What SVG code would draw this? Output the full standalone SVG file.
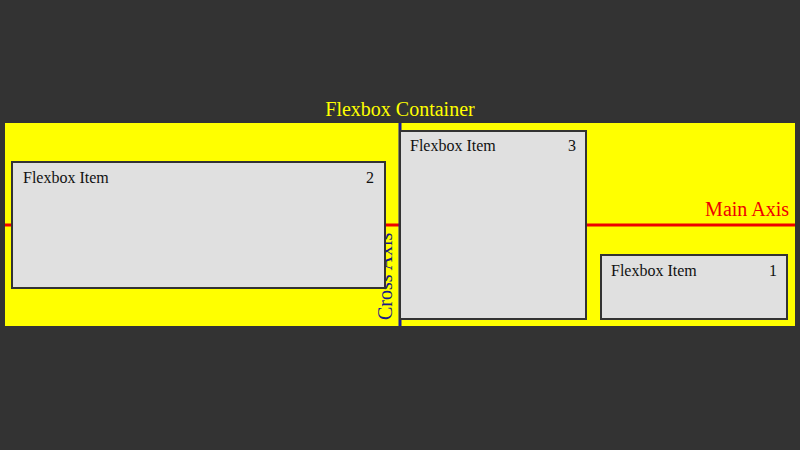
<svg xmlns="http://www.w3.org/2000/svg" width="800" height="450" viewBox="0 0 800 450">
<style>
.item rect{fill:#e0e0e0;stroke:#333333;stroke-width:2}
.t{font-family:"Liberation Serif","Times New Roman",serif;font-size:16px;fill:#111111}
.lbl{font-family:"Liberation Serif","Times New Roman",serif;font-size:20px}
</style>
<rect x="0" y="0" width="800" height="450" fill="#333333"/>
<g id="container">
<rect x="5" y="123" width="790" height="203" fill="#ffff00"/>
<text class="lbl" x="400" y="116" text-anchor="middle" fill="#ffff00">Flexbox Container</text>
</g>
<g id="connectors">
<line x1="5" y1="225" x2="795" y2="225" stroke="#ee0000" stroke-width="3"/>
<line x1="400" y1="123" x2="400" y2="326" stroke="#1a1a9a" stroke-width="3"/>
<text class="lbl" x="789" y="216" text-anchor="end" fill="#ee0000">Main Axis</text>
<text class="lbl" transform="translate(392,320) rotate(-90)" fill="#1a1a8a">Cross Axis</text>
</g>
<g id="item2" class="item">
<rect x="12" y="162" width="373" height="126"/>
<text class="t" x="23" y="183">Flexbox Item</text>
<text class="t" x="374" y="183" text-anchor="end">2</text>
</g>
<g id="item3" class="item">
<rect x="400" y="131" width="186" height="188"/>
<text class="t" x="410" y="151">Flexbox Item</text>
<text class="t" x="576" y="151" text-anchor="end">3</text>
</g>
<g id="item1" class="item">
<rect x="601" y="255" width="186" height="64"/>
<text class="t" x="611" y="276">Flexbox Item</text>
<text class="t" x="777" y="276" text-anchor="end">1</text>
</g>
</svg>
